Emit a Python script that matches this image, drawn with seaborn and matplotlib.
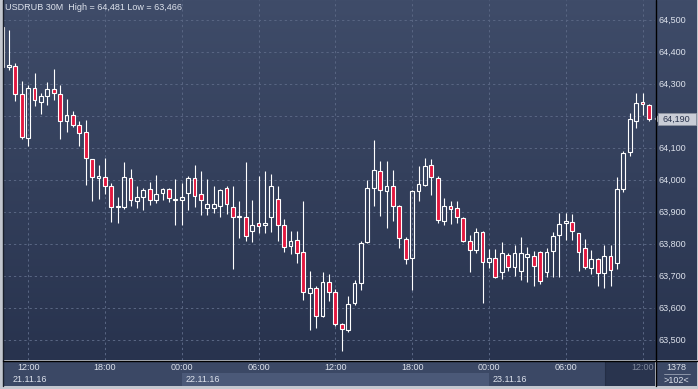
import numpy as np
import pandas as pd
import matplotlib
matplotlib.use("Agg")
import matplotlib.pyplot as plt
import matplotlib.transforms as mtransforms
from matplotlib.colors import LinearSegmentedColormap
from matplotlib.patches import Rectangle, Polygon
import seaborn as sns

# ---------------- data ----------------
symbol = "USDRUB"
timeframe = "30M"
start_time = "2016-11-21 10:00"
bar_freq = "30min"

opens = [64.478, 64.352, 64.354, 64.267, 64.129, 64.286, 64.244, 64.263, 64.283, 64.267,
         64.185, 64.202, 64.170, 64.149, 64.064, 64.004, 64.009, 63.980, 63.914, 63.916,
         64.005, 63.932, 63.945, 63.970, 63.937, 63.958, 63.970, 63.936, 63.937, 63.958,
         64.005, 63.955, 63.911, 63.913, 63.919, 63.975, 63.914, 63.884, 63.884, 63.841,
         63.864, 63.858, 63.882, 63.939, 63.857, 63.793, 63.812, 63.774, 63.647, 63.661,
         63.575, 63.680, 63.649, 63.549, 63.529, 63.614, 63.677, 63.804, 63.974, 64.027,
         63.964, 63.981, 63.918, 63.814, 63.754, 63.964, 63.982, 64.046, 64.006, 63.872,
         63.918, 63.911, 63.880, 63.809, 63.779, 63.837, 63.742, 63.755, 63.711, 63.764,
         63.727, 63.716, 63.760, 63.762, 63.774, 63.713, 63.777, 63.827, 63.864, 63.867,
         63.833, 63.786, 63.724, 63.752, 63.708, 63.761, 63.739, 63.970, 64.086, 64.185,
         64.242, 64.233]
highs = [64.481, 64.468, 64.366, 64.309, 64.296, 64.335, 64.272, 64.304, 64.346, 64.296,
         64.253, 64.215, 64.182, 64.187, 64.066, 64.046, 64.068, 63.989, 63.947, 64.056,
         64.034, 63.981, 63.975, 63.993, 64.014, 63.975, 63.975, 64.003, 63.989, 64.011,
         64.045, 64.028, 64.003, 63.981, 63.972, 63.981, 63.981, 63.932, 64.055, 63.937,
         64.012, 64.028, 64.018, 63.981, 63.878, 63.840, 63.840, 63.934, 63.715, 63.668,
         63.711, 63.706, 63.658, 63.551, 63.637, 63.687, 63.809, 64.000, 64.125, 64.059,
         64.059, 64.031, 63.920, 63.820, 63.967, 64.043, 64.068, 64.065, 64.012, 63.942,
         63.932, 63.934, 63.885, 63.828, 63.849, 63.839, 63.785, 63.785, 63.805, 63.770,
         63.796, 63.820, 63.789, 63.778, 63.778, 63.787, 63.836, 63.895, 63.895, 63.892,
         63.835, 63.814, 63.780, 63.755, 63.796, 63.796, 64.008, 64.090, 64.208, 64.270,
         64.270, 64.236]
lows = [64.350, 64.343, 64.247, 64.128, 64.104, 64.229, 64.204, 64.232, 64.250, 64.128,
        64.150, 64.166, 64.104, 63.982, 63.932, 63.940, 63.955, 63.869, 63.866, 63.907,
        63.919, 63.913, 63.904, 63.922, 63.927, 63.937, 63.929, 63.857, 63.857, 63.906,
        63.916, 63.891, 63.891, 63.895, 63.885, 63.892, 63.722, 63.817, 63.810, 63.804,
        63.835, 63.835, 63.838, 63.807, 63.775, 63.768, 63.741, 63.625, 63.529, 63.538,
        63.572, 63.622, 63.544, 63.466, 63.524, 63.609, 63.654, 63.802, 63.918, 63.888,
        63.850, 63.872, 63.788, 63.737, 63.654, 63.935, 63.979, 63.953, 63.864, 63.857,
        63.862, 63.866, 63.805, 63.713, 63.770, 63.614, 63.724, 63.692, 63.690, 63.716,
        63.700, 63.687, 63.679, 63.669, 63.674, 63.697, 63.697, 63.697, 63.811, 63.811,
        63.716, 63.720, 63.705, 63.669, 63.663, 63.669, 63.720, 63.961, 64.075, 64.163,
        64.203, 64.185]
closes = [64.353, 64.359, 64.267, 64.132, 64.286, 64.249, 64.261, 64.283, 64.270, 64.185,
          64.202, 64.170, 64.145, 64.067, 64.008, 64.012, 63.979, 63.916, 63.917, 64.008,
          63.936, 63.946, 63.968, 63.937, 63.955, 63.970, 63.942, 63.939, 63.946, 64.005,
          63.949, 63.936, 63.924, 63.924, 63.968, 63.924, 63.882, 63.886, 63.825, 63.858,
          63.854, 63.864, 63.981, 63.857, 63.791, 63.809, 63.770, 63.649, 63.661, 63.575,
          63.680, 63.649, 63.549, 63.533, 63.612, 63.677, 63.802, 63.974, 64.030, 63.967,
          63.981, 63.917, 63.817, 63.752, 63.965, 63.987, 64.043, 64.008, 63.875, 63.918,
          63.910, 63.882, 63.807, 63.779, 63.837, 63.744, 63.755, 63.695, 63.770, 63.727,
          63.770, 63.770, 63.767, 63.729, 63.682, 63.774, 63.824, 63.861, 63.870, 63.839,
          63.774, 63.727, 63.752, 63.708, 63.761, 63.717, 63.970, 64.083, 64.190, 64.239,
          64.236, 64.190]

price_ticks = [63.5, 63.6, 63.7, 63.8, 63.9, 64.0, 64.1, 64.2, 64.3, 64.4, 64.5]
history_count = "1378"

# ---------------- style ----------------
sns.set_theme(style="dark")
plt.rcParams["font.family"] = ["Liberation Sans", "DejaVu Sans"]

BG_TOP, BG_BOT = "#3f4c69", "#28334e"
PANEL = "#3b4865"
GRID = "#586582"
TXT = "#dde2ec"
RED = "#e3183f"

W, H = 698, 389
def rect(x0, y0, x1, y1):
    return [x0 / W, 1 - y1 / H, (x1 - x0) / W, (y1 - y0) / H]

fmt = lambda v: f"{v:.3f}".replace(".", ",")

df = pd.DataFrame({"open": opens, "high": highs, "low": lows, "close": closes})
df["time"] = pd.date_range(start_time, periods=len(df), freq=bar_freq)
df["i"] = np.arange(len(df))
df["top"] = df[["open", "close"]].max(axis=1)
df["bot"] = df[["open", "close"]].min(axis=1)
df["up"] = df["close"] >= df["open"]

fig = plt.figure(figsize=(W / 100, H / 100), dpi=100)
fig.patch.set_facecolor("#c3c7cf")

# gradient background (plot + price scale)
bg = fig.add_axes(rect(3, 0, 697, 360), zorder=0)
cmap = LinearSegmentedColormap.from_list("bg", [BG_TOP, BG_BOT])
bg.imshow(np.linspace(0, 1, 256).reshape(-1, 1), aspect="auto", cmap=cmap,
          extent=[0, 1, 0, 1], origin="upper")
bg.axis("off")

# main axes
ax = fig.add_axes(rect(3, 0, 655, 360), zorder=2)
ax.patch.set_alpha(0)
xlim = (0.5 / 6.4, 652.5 / 6.4)
ylim = (63.4366, 64.5616)
ax.set_xlim(*xlim)
ax.set_ylim(*ylim)

grid_idx = df.index[(df["time"].dt.minute == 0) & (df["time"].dt.hour % 6 == 0)]
ax.set_xticks(df.loc[grid_idx, "i"])
ax.set_yticks(price_ticks)
# the current-price tag covers the nearest scale label
last = closes[-1]
ax.set_yticklabels(["" if abs(v - last) < 0.03 else fmt(v) for v in price_ticks])
ax.tick_params(axis="x", length=0, labelbottom=False)
ax.yaxis.tick_right()
ax.tick_params(axis="y", length=0, pad=2.2, labelsize=6.5, labelcolor=TXT)
ax.grid(True, color=GRID, linestyle=(0, (2.2, 2.8)), linewidth=0.75)
for s in ax.spines.values():
    s.set_visible(False)

# candles
ax.vlines(df["i"], df["top"], df["high"], color="white", linewidth=0.8, zorder=3)
ax.vlines(df["i"], df["low"], df["bot"], color="white", linewidth=0.8, zorder=3)
fills = [(0, 0, 0, 0) if u else RED for u in df["up"]]
ax.bar(df["i"], np.maximum(df["top"] - df["bot"], 0.0012), bottom=df["bot"], width=0.6,
       color=fills, edgecolor="white", linewidth=0.8, zorder=4)

# title
fig.text(5 / W, 1 - 8 / H,
         f"{symbol} {timeframe}  High = {fmt(max(highs))} Low = {fmt(min(lows))}",
         fontsize=6.5, color=TXT, va="center", ha="left")

# bottom time panel
ax2 = fig.add_axes(rect(3, 361, 655, 386), zorder=1)
ax2.set_facecolor(PANEL)
ax2.set_xlim(*xlim)
ax2.set_ylim(0, 1)
ax2.set_xticks([]); ax2.set_yticks([])
for s in ax2.spines.values():
    s.set_visible(False)
tr2 = mtransforms.blended_transform_factory(ax2.transData, ax2.transAxes)

day_starts = df.index[(df["time"].dt.hour == 0) & (df["time"].dt.minute == 0)].tolist()
bounds = day_starts + [xlim[1]]
for k, d0 in enumerate(day_starts):
    if k % 2 == 0:
        ax2.add_patch(Rectangle((d0, 0), bounds[k + 1] - d0, 0.52, transform=tr2,
                                facecolor="#4b5978", edgecolor="none", zorder=1))
last_i = df.loc[grid_idx[-1], "i"]
ax2.add_patch(Rectangle((last_i - 5.9, 0), xlim[1] - (last_i - 5.9), 1, transform=tr2,
                        facecolor="#29344e", edgecolor="#242e45", linewidth=0.8, zorder=2))

for gi in grid_idx:
    t = df.loc[gi, "time"]
    col = "#7f889b" if gi == grid_idx[-1] else TXT
    ax2.text(df.loc[gi, "i"], 0.72, t.strftime("%H:%M"), transform=tr2, ha="center",
             va="center", fontsize=6.5, color=col, zorder=3)

dates = [df["time"].iloc[0].normalize()] + [df.loc[d, "time"] for d in day_starts]
date_pos = [1.5] + [df.loc[d, "i"] + 0.55 for d in day_starts]
for dt, xp in zip(dates, date_pos):
    ax2.text(xp, 0.24, dt.strftime("%d.%m.%y"), transform=tr2, ha="left", va="center",
             fontsize=6.5, color=TXT, zorder=3)

# corner panel
ax3 = fig.add_axes(rect(656, 361, 697, 386), zorder=1)
ax3.set_facecolor(PANEL)
ax3.set_xlim(0, 1); ax3.set_ylim(0, 1)
ax3.set_xticks([]); ax3.set_yticks([])
for s in ax3.spines.values():
    s.set_visible(False)
ax3.text(0.5, 0.72, history_count, ha="center", va="center", fontsize=6.5, color=TXT)
ax3.plot([0.2, 0.83], [0.48, 0.48], color="#9aa2b3", linewidth=0.6)
ax3.text(0.5, 0.22, f">{len(df)}<", ha="center", va="center", fontsize=6.5, color=TXT)

# overlay (frame lines and price tag)
ov = fig.add_axes([0, 0, 1, 1], zorder=5)
ov.patch.set_alpha(0)
ov.set_xlim(0, W); ov.set_ylim(H, 0)
ov.axis("off")
ov.plot([2.5, 2.5], [0, 386], color="#1a1f2b", linewidth=1.0)
ov.plot([3, 697], [360.5, 360.5], color="black", linewidth=1.0)
ov.plot([655.5, 655.5], [0, 386], color="black", linewidth=1.0)

fig.canvas.draw()
py = H - ax.transData.transform((0, last))[1]
ov.add_patch(Rectangle((657.5, py - 6), 38.5, 12, facecolor="#c9cdd6", edgecolor="#8d93a0",
                       linewidth=0.6))
ov.add_patch(Polygon([(654.5, py), (658, py - 3.5), (658, py + 3.5)], closed=True,
                     facecolor="#c9cdd6", edgecolor="none"))
ov.text(676.5, py, fmt(last), ha="center", va="center", fontsize=6.5, color="#27324b")

fig.savefig("out.png", dpi=100, facecolor=fig.get_facecolor())
